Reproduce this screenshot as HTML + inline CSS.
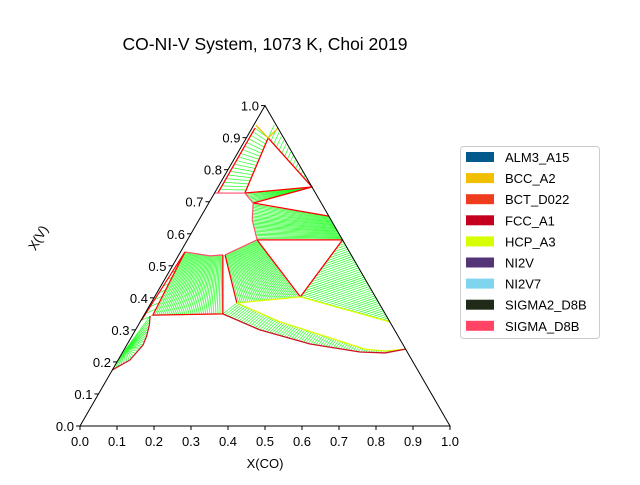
<!DOCTYPE html>
<html><head><meta charset="utf-8"><style>
body{margin:0;background:#fff}
svg text{font-family:"Liberation Sans",sans-serif}
</style></head><body>
<svg id="c" width="640" height="480" viewBox="0 0 640 480">
<text x="265" y="50" font-size="17.5" text-anchor="middle">CO-NI-V System, 1073 K, Choi 2019</text>
<text x="265" y="468" font-size="13" text-anchor="middle">X(CO)</text>
<text x="42" y="240" font-size="13" text-anchor="middle" transform="rotate(-60 42 240)">X(V)</text>
<g id="marks"></g>
<g id="axes"></g>
<g id="legend">
<rect x="460.5" y="146.5" width="139" height="192" rx="3" fill="#fff" stroke="#ccc"/>
</g>
</svg>
<script>
const NS="http://www.w3.org/2000/svg";
// tick labels
const ticks=[0,0.1,0.2,0.3,0.4,0.5,0.6,0.7,0.8,0.9,1.0];
// legend phases and colors
const phases=["ALM3_A15","BCC_A2","BCT_D022","FCC_A1","HCP_A3","NI2V","NI2V7","SIGMA2_D8B","SIGMA_D8B"];
const phaseColors=["#045a8d","#f0c000","#f03c1e","#c4001e","#d8ff00","#553377","#7fd4ee","#1f2a18","#ff4466"];
// phase boundaries, as [X(CO), X(V)] compositions
const bL1=[[0.008,0.930],[0.009,0.727]];
const bL2=[[0.059,0.899],[0.082,0.727]];
const edgeTop=[[0.055,0.940],[0.254,0.746]];
const lineTop=[[0.059,0.899],[0.254,0.746]];
const wedgeA=[[0.082,0.727],[0.120,0.696]];
const wedgeApex=[[0.254,0.746],[0.254,0.746]];
const eLeft=[[0.120,0.696],[0.144,0.643],[0.188,0.581]];
const eRight=[[0.345,0.655],[0.419,0.581]];
const fTop=[[0.012,0.543],[0.086,0.531],[0.119,0.534]];
const fBot=[[0.024,0.346],[0.211,0.350]];
const gTop=[[0.125,0.534],[0.188,0.581]];
const gBot=[[0.232,0.384],[0.394,0.403]];
const iIn=[[0.419,0.581],[0.394,0.403],[0.675,0.325]];
const iEdge=[[0.419,0.581],[0.675,0.325]];
const jYel=[[0.232,0.384],[0.378,0.325],[0.538,0.275],[0.650,0.240],[0.707,0.234],[0.760,0.240]];
const jRed=[[0.211,0.350],[0.336,0.300],[0.494,0.256],[0.641,0.231],[0.710,0.228],[0.760,0.240]];
const kCurve=[[0.018,0.343],[0.030,0.315],[0.040,0.280],[0.044,0.253],[0.032,0.206],[0.000,0.175]];
const kCenter=[[0.004,0.240],[0.004,0.240]];
const sL=[[0.012,0.543],[0.001,0.330]];
const sR=[[0.012,0.543],[0.024,0.346]];

function X(a,v){return 80+370*(a+v/2);}
function Y(v){return 426-320.4*v;}
function P(p){return [X(p[0],p[1]),Y(p[1])];}
function at(poly,t){const q=poly.map(P);let L=[0];for(let i=1;i<q.length;i++)L.push(L[i-1]+Math.hypot(q[i][0]-q[i-1][0],q[i][1]-q[i-1][1]));
 const s=t*L[L.length-1];for(let i=1;i<q.length;i++){if(s<=L[i]||i==q.length-1){const f=(L[i]-L[i-1])?(s-L[i-1])/(L[i]-L[i-1]):0;return [q[i-1][0]+f*(q[i][0]-q[i-1][0]),q[i-1][1]+f*(q[i][1]-q[i-1][1])];}}}
const M=document.getElementById('marks');
function line(x1,y1,x2,y2,c,w,name){const l=document.createElementNS(NS,'line');l.setAttribute('x1',x1);l.setAttribute('y1',y1);l.setAttribute('x2',x2);l.setAttribute('y2',y2);l.setAttribute('stroke',c);l.setAttribute('stroke-width',w);


return l;}
function ties(a,b,n,name){const g=document.createElementNS(NS,'g');


for(let i=0;i<=n;i++){const p=at(a,i/n),q=at(b,i/n);g.appendChild(line(p[0],p[1],q[0],q[1],'#22ff22',0.7,'tie-line'));}M.appendChild(g);}
function poly(pts,c,w,name){const e=document.createElementNS(NS,'polyline');e.setAttribute('points',pts.map(P).map(p=>p.join(',')).join(' '));e.setAttribute('fill','none');e.setAttribute('stroke',c);e.setAttribute('stroke-width',w);e.setAttribute('stroke-linejoin','round');


M.appendChild(e);}
ties(bL1,bL2,18,'ties-top-left');
ties(edgeTop,lineTop,16,'ties-top-right');
ties(wedgeA,wedgeApex,8,'ties-wedge');
ties(eLeft,eRight,26,'ties-upper-band');
ties(fTop,fBot,36,'ties-left-block');
ties(gTop,gBot,34,'ties-mid-block');
ties(iIn,iEdge,44,'ties-right-fan');
ties(jYel,jRed,75,'ties-lower-band');
ties(kCenter,kCurve,22,'ties-bottom-fan');
ties(sL,sR,10,'ties-left-sliver');
const R='#ff0000',PK='#ff5070',YL='#dcff00';
poly(bL1,R,1.3,'boundary');poly(bL2,R,1.3,'boundary');poly(lineTop,R,1.3,'boundary');
poly([[0.082,0.727],[0.254,0.746],[0.120,0.696]],R,1.3,'boundary');
poly([[0.000,0.727],[0.082,0.727],[0.120,0.696]],PK,1.2,'boundary');
poly([[0.120,0.696],[0.345,0.655]],R,1.3,'boundary');
poly(eLeft,PK,1.2,'boundary');poly([[0.188,0.581],[0.419,0.581],[0.394,0.403],[0.188,0.581]],R,1.3,'boundary');
poly(fTop,PK,1.2,'boundary');poly([[0.012,0.543],[0.024,0.346],[0.211,0.350],[0.119,0.534]],R,1.3,'boundary');
poly(gTop,PK,1.2,'boundary');poly([[0.125,0.534],[0.232,0.384]],R,1.3,'boundary');
poly([[0.232,0.384],[0.394,0.403],[0.675,0.325]],YL,1.3,'boundary');
poly(jYel,YL,1.3,'boundary');poly(jRed,'#d0102a',1.3,'boundary');
poly(kCurve,'#d0102a',1.2,'boundary');poly(sL,R,1.2,'boundary');
poly([[0.006,0.939],[0.059,0.899],[0.070,0.930]],'#f0c000',1.3,'boundary');
// axes
const A=document.getElementById('axes');
const tri=document.createElementNS(NS,'polygon');tri.setAttribute('points',[[0,0],[1,0],[0,1]].map(P).map(p=>p.join(',')).join(' '));tri.setAttribute('fill','none');tri.setAttribute('stroke','#000');tri.setAttribute('stroke-width','1');


A.appendChild(tri);
ticks.forEach(t=>{const x=X(t,0);A.appendChild(line(x,426,x,430,'#000',1,'x-tick'));
const tx=document.createElementNS(NS,'text');tx.setAttribute('x',x);tx.setAttribute('y',446);tx.setAttribute('font-size','13');tx.setAttribute('text-anchor','middle');tx.textContent=t.toFixed(1);


A.appendChild(tx);
const lx=X(0,t),ly=Y(t);A.appendChild(line(lx,ly,lx-4,ly,'#000',1,'y-tick'));
const ty=document.createElementNS(NS,'text');ty.setAttribute('x',lx-6);ty.setAttribute('y',ly+5);ty.setAttribute('font-size','13');ty.setAttribute('text-anchor','end');ty.textContent=t.toFixed(1);


A.appendChild(ty);});
// legend
const G=document.getElementById('legend');
phases.forEach((p,i)=>{const y=152+i*21.1;const r=document.createElementNS(NS,'rect');r.setAttribute('x',466);r.setAttribute('y',y);r.setAttribute('width',28);r.setAttribute('height',10);r.setAttribute('fill',phaseColors[i]);


G.appendChild(r);
const t=document.createElementNS(NS,'text');t.setAttribute('x',505);t.setAttribute('y',y+10);t.setAttribute('font-size','13');t.textContent=p;


G.appendChild(t);});
</script>
</body></html>
